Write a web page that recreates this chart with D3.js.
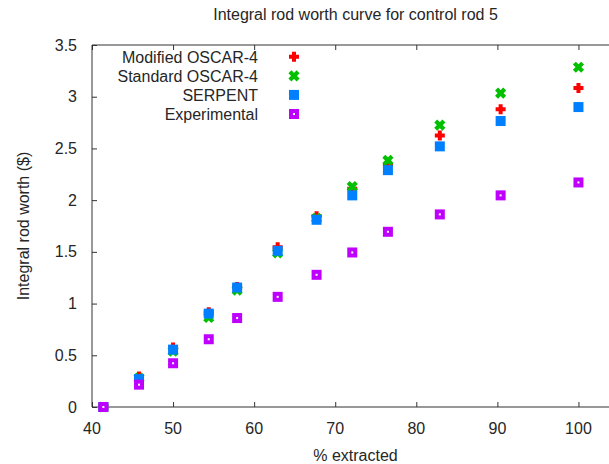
<!DOCTYPE html>
<html>
<head>
<meta charset="utf-8">
<script src="https://cdn.jsdelivr.net/npm/d3@7"></script>
<style>
  body { margin: 0; background: #fff; overflow: hidden; }
  svg { display: block; font-family: "Liberation Sans", Arial, sans-serif; }
  .txt { fill: #262626; font-size: 16px; }
</style>
</head>
<body>
<svg id="chart" width="609" height="464"></svg>
<script>
// % extracted, shared by all series
const extracted = [41.4, 45.8, 50.0, 54.4, 57.9, 62.9, 67.7, 72.1, 76.5, 82.9, 90.4, 100.0];

const modifiedOscar = [0, 0.295, 0.575, 0.917, 1.16, 1.545, 1.845, 2.11, 2.34, 2.625, 2.88, 3.085];
const standardOscar = [0, 0.28, 0.54, 0.865, 1.13, 1.49, 1.825, 2.13, 2.385, 2.725, 3.035, 3.285];
const serpent = [0, 0.27, 0.555, 0.903, 1.155, 1.51, 1.81, 2.046, 2.29, 2.52, 2.765, 2.90];
const experimental = [0, 0.216, 0.423, 0.655, 0.86, 1.065, 1.278, 1.494, 1.694, 1.862, 2.046, 2.171];

const xTicks = [40, 50, 60, 70, 80, 90, 100];
const yTicks = [0, 0.5, 1, 1.5, 2, 2.5, 3, 3.5];

const seriesNames = ['Modified OSCAR-4', 'Standard OSCAR-4', 'SERPENT', 'Experimental'];

const svg = d3.select('#chart');

/* plot area, right side runs past the picture edge */
const padLeft = 92, padTop = 45, padBottom = 407, padRight = 619;

const xScale = d3.scaleLinear().domain([40, 105]).range([padLeft, padRight]);
const yScale = d3.scaleLinear().domain([0, 3.5]).range([padBottom, padTop]);

/* Border: left, top, bottom (right edge is outside the picture) */
svg.append('path')
  .attr('d', 'M' + padRight + ',' + padTop + 'H' + padLeft + 'V' + padBottom + 'H' + padRight)
  .attr('fill', 'none').attr('stroke', '#333').attr('stroke-width', 1);

/* X axis, ticks pointing inward, mirrored on top */
const xAxis = d3.axisTop(xScale).tickValues(xTicks).tickSize(5).tickFormat('');
svg.append('g').attr('transform', 'translate(0,' + padBottom + ')').call(xAxis);
svg.append('g').attr('transform', 'translate(0,' + padTop + ')')
  .call(d3.axisBottom(xScale).tickValues(xTicks).tickSize(5).tickFormat(''));

const yAxis = d3.axisRight(yScale).tickValues(yTicks).tickSize(5).tickFormat('');
svg.append('g').attr('transform', 'translate(' + padLeft + ',0)').call(yAxis);

svg.selectAll('.domain').remove();
svg.selectAll('.tick line').attr('stroke', '#333');

/* Tick labels */
svg.selectAll('.xlab')
  .data(xTicks)
  .enter()
  .append('text')
  .attr('class', 'txt')
  .attr('x', d => xScale(d))
  .attr('y', 434)
  .attr('text-anchor', 'middle')
  .text(d => d3.format('d')(d));

svg.selectAll('.ylab')
  .data(yTicks)
  .enter()
  .append('text')
  .attr('class', 'txt')
  .attr('x', 77)
  .attr('y', d => yScale(d) + 5.5)
  .attr('text-anchor', 'end')
  .text(d => String(d));

/* Titles */
svg.append('text').attr('class', 'txt')
  .attr('x', (padLeft + padRight) / 2).attr('y', 20)
  .attr('text-anchor', 'middle')
  .text('Integral rod worth curve for control rod 5');

svg.append('text').attr('class', 'txt')
  .attr('x', (padLeft + padRight) / 2).attr('y', 461)
  .attr('text-anchor', 'middle')
  .text('% extracted');

svg.append('text').attr('class', 'txt')
  .attr('transform', 'translate(28.5,' + ((padTop + padBottom) / 2) + ') rotate(-90)')
  .attr('text-anchor', 'middle')
  .text('Integral rod worth ($)');

/* Point shapes */
function drawPoint(g, kind) {
  if (kind === 0) {
    g.append('path').attr('d', 'M-5,0H5M0,-5V5')
      .attr('stroke', '#ff0000').attr('stroke-width', 4).attr('fill', 'none');
  } else if (kind === 1) {
    g.append('path').attr('d', 'M-4.1,-4.1L4.1,4.1M-4.1,4.1L4.1,-4.1')
      .attr('stroke', '#00c000').attr('stroke-width', 4.2).attr('fill', 'none');
  } else if (kind === 2) {
    g.append('rect').attr('x', -5).attr('y', -5).attr('width', 10).attr('height', 10)
      .attr('fill', '#0080ff');
  } else {
    g.append('rect').attr('x', -5).attr('y', -5).attr('width', 10).attr('height', 10)
      .attr('fill', '#c000ff');
    g.append('rect').attr('x', -1).attr('y', -1).attr('width', 2).attr('height', 2)
      .attr('fill', '#fff');
  }
}

const allSeries = [modifiedOscar, standardOscar, serpent, experimental];

allSeries.forEach((values, k) => {
  svg.append('g')
    .selectAll('g')
    .data(values.map((v, i) => ({ x: extracted[i], y: v })))
    .enter()
    .append('g')
    .attr('transform', d => 'translate(' + xScale(d.x) + ',' + yScale(d.y) + ')')
    .each(function () { drawPoint(d3.select(this), k); });
});

/* Legend */
seriesNames.forEach((name, k) => {
  const cy = 56.7 + k * 19.1;
  svg.append('text').attr('class', 'txt')
    .attr('x', 258).attr('y', cy + 6)
    .attr('text-anchor', 'end')
    .text(name);
  const g = svg.append('g').attr('transform', 'translate(294,' + cy + ')');
  drawPoint(g, k);
});
</script>
</body>
</html>
